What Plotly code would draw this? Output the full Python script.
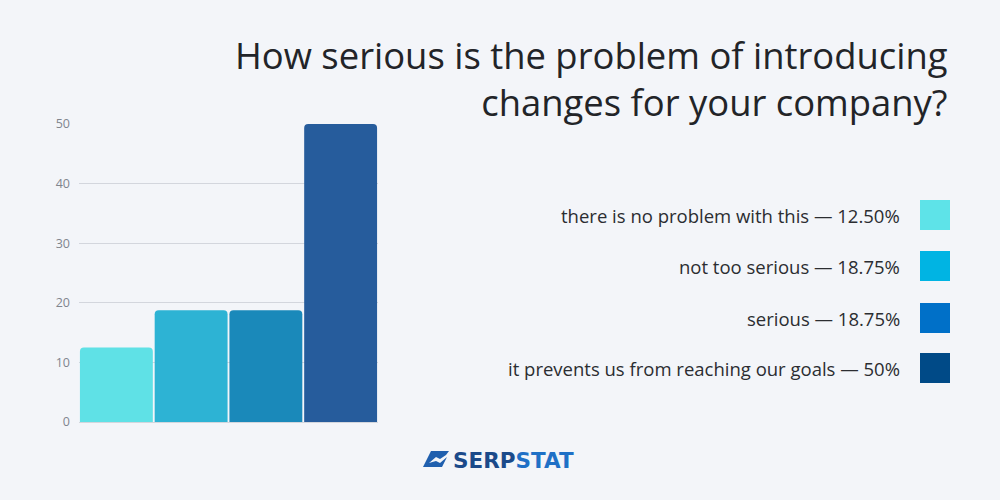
import plotly.graph_objects as go

categories = ["there is no problem with this", "not too serious", "serious",
              "it prevents us from reaching our goals"]
values = [12.5, 18.75, 18.75, 50]
value_labels = ["12.50%", "18.75%", "18.75%", "50%"]
bar_colors = ["#5FE1E6", "#2DB3D4", "#1A89BA", "#265C9C"]
legend_colors = ["#5EE3E8", "#00B4E3", "#0070C8", "#004A87"]
y_ticks = [0, 10, 20, 30, 40, 50]

BG = "#F3F5F9"
FONT = "Open Sans"

fig = go.Figure()
fig.add_trace(go.Bar(
    x=list(range(len(values))), y=values,
    marker=dict(color=bar_colors, line=dict(width=0), cornerradius=4),
    hoverinfo="skip", showlegend=False,
))

fig.update_layout(
    width=1000, height=500,
    paper_bgcolor=BG, plot_bgcolor=BG,
    margin=dict(l=79, r=622, t=124, b=78),
    bargap=0.025,
    font=dict(family=FONT, color="#333"),
    xaxis=dict(visible=False, range=[-0.5, len(values) - 0.5]),
    yaxis=dict(range=[0, 50], tickvals=y_ticks, showgrid=True,
               gridcolor="#D3D6DD", gridwidth=1, zeroline=True,
               zerolinecolor="#D3D6DD", zerolinewidth=1,
               tickfont=dict(size=12.5, color="#80858E", family=FONT),
               ticks="", ticklabelstandoff=8, fixedrange=True),
)

def px(xp):
    return 1 + (xp - 378) / 299
def py(yp):
    return 1 - (yp - 124) / 298

# Title
fig.add_annotation(
    text="How serious is the problem of introducing<br>changes for your company?",
    xref="paper", yref="paper", x=px(950), y=py(129),
    xanchor="right", yanchor="bottom", align="right", showarrow=False,
    font=dict(size=36.4, color="#222428", family=FONT),
)

# Legend (manual, right-aligned text with squares on the right)
legend_y_px = [215, 266, 318, 368]
for i, (cat, lab) in enumerate(zip(categories, value_labels)):
    ypx = legend_y_px[i]
    yp = py(ypx)
    fig.add_annotation(
        text=f"{cat} — {lab}", xref="paper", yref="paper",
        x=px(902), y=yp, xanchor="right", yanchor="middle", showarrow=False,
        font=dict(size=18.5, color="#2B2D31", family=FONT),
    )
    fig.add_shape(
        type="rect", xref="paper", yref="paper",
        x0=px(920), x1=px(950),
        y0=yp - 15 / 298, y1=yp + 15 / 298,
        fillcolor=legend_colors[i], line=dict(width=0),
    )

# Logo
fig.add_annotation(
    text="<b><span style='color:#1B4A8A'>SERP</span><span style='color:#1F70C6'>STAT</span></b>",
    xref="paper", yref="paper", x=px(451), y=py(460),
    xanchor="left", yanchor="middle", showarrow=False,
    font=dict(size=21.5, family="DejaVu Sans"),
)
path = (f"M {px(423)},{py(467)} L {px(431)},{py(451)} L {px(449)},{py(451)} "
        f"L {px(446)},{py(455)} L {px(440)},{py(459)} L {px(436)},{py(457)} "
        f"L {px(429)},{py(463)} L {px(436)},{py(461)} L {px(440)},{py(463)} "
        f"L {px(447)},{py(457)} L {px(442)},{py(467)} Z")
fig.add_shape(type="path", xref="paper", yref="paper", path=path,
              fillcolor="#1F5FAE", line=dict(width=0))

fig.write_html("out.html")
